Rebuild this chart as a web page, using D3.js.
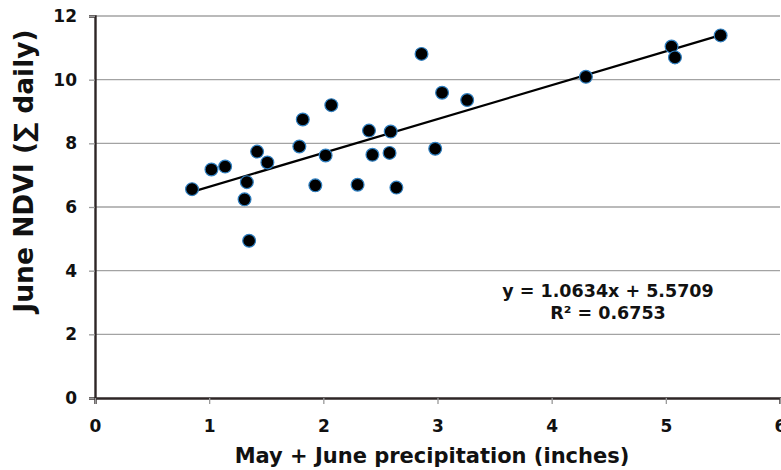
<!DOCTYPE html>
<html>
<head>
<meta charset="utf-8">
<script src="https://cdn.jsdelivr.net/npm/d3@7"></script>
<style>
html,body{margin:0;padding:0;background:#fff;overflow:hidden;}
svg{display:block;}
text{font-family:"DejaVu Sans","Liberation Sans",Arial,sans-serif;font-weight:bold;fill:#111;}
</style>
</head>
<body>
<svg id="chart" width="781" height="470"></svg>
<script>
const precip = [0.85,1.02,1.14,1.42,1.51,1.33,1.31,1.35,1.82,1.79,2.07,2.02,1.93,2.30,2.40,2.43,2.59,2.58,2.64,2.98,3.04,3.26,2.86,4.30,5.05,5.08,5.48];
const ndvi   = [6.56,7.18,7.27,7.74,7.40,6.78,6.24,4.94,8.75,7.90,9.20,7.62,6.68,6.70,8.40,7.64,8.37,7.70,6.61,7.83,9.59,9.36,10.81,10.09,11.04,10.70,11.39];
const xTicks = [0,1,2,3,4,5,6];
const yTicks = [0,2,4,6,8,10,12];
const slope = 1.0634, intercept = 5.5709;
const eqLines = ["y = 1.0634x + 5.5709", "R² = 0.6753"];

const svg = d3.select("#chart");
const x = d3.scaleLinear().domain([0,6]).range([95,780]);
const y = d3.scaleLinear().domain([0,12]).range([398,16]);

// gridlines
svg.append("g").selectAll("line").data(yTicks.filter(d=>d>0)).join("line")
  .attr("x1",x(0)).attr("x2",x(6)).attr("y1",d=>y(d)).attr("y2",d=>y(d))
  .attr("stroke","#a3a3a3").attr("stroke-width",1.3);

// y axis
const yAxis = svg.append("g").attr("transform",`translate(${x(0)},0)`)
  .call(d3.axisLeft(y).tickValues(yTicks).tickSize(6).tickPadding(12).tickFormat(d3.format("d")));
yAxis.select(".domain").attr("stroke","#2e2626").attr("stroke-width",2.4);
yAxis.selectAll(".tick line").attr("stroke","#999").attr("stroke-width",1.3);
yAxis.selectAll(".tick text").style("font-size","17px").attr("fill","#111");

// x axis
const xAxis = svg.append("g").attr("transform",`translate(0,${y(0)})`)
  .call(d3.axisBottom(x).tickValues(xTicks).tickSize(6).tickPadding(16).tickFormat(d3.format("d")));
xAxis.select(".domain").attr("stroke","#2e2626").attr("stroke-width",2.4);
xAxis.selectAll(".tick line").attr("stroke","#999").attr("stroke-width",1.3);
xAxis.selectAll(".tick text").style("font-size","17px").attr("fill","#111");

// trend line
const xmin = d3.min(precip), xmax = d3.max(precip);
svg.append("line")
  .attr("x1",x(xmin)).attr("y1",y(slope*xmin+intercept))
  .attr("x2",x(xmax)).attr("y2",y(slope*xmax+intercept))
  .attr("stroke","#000").attr("stroke-width",2.2);

// points
svg.append("g").selectAll("circle").data(precip.map((p,i)=>[p,ndvi[i]])).join("circle")
  .attr("cx",d=>x(d[0])).attr("cy",d=>y(d[1])).attr("r",6.4)
  .attr("fill","#000").attr("stroke","#2f7fc0").attr("stroke-width",1.2);

// equation
svg.append("g").selectAll("text").data(eqLines).join("text")
  .attr("x",608).attr("y",(d,i)=>297+i*22).attr("text-anchor","middle")
  .style("font-size","17.5px").text(d=>d);

// axis titles
svg.append("text").attr("x",432).attr("y",463).attr("text-anchor","middle")
  .style("font-size","21px").text("May + June precipitation (inches)");
svg.append("text").attr("transform","translate(33,171) rotate(-90)").attr("text-anchor","middle")
  .style("font-size","26.5px").text("June NDVI (∑ daily)");
</script>
</body>
</html>
